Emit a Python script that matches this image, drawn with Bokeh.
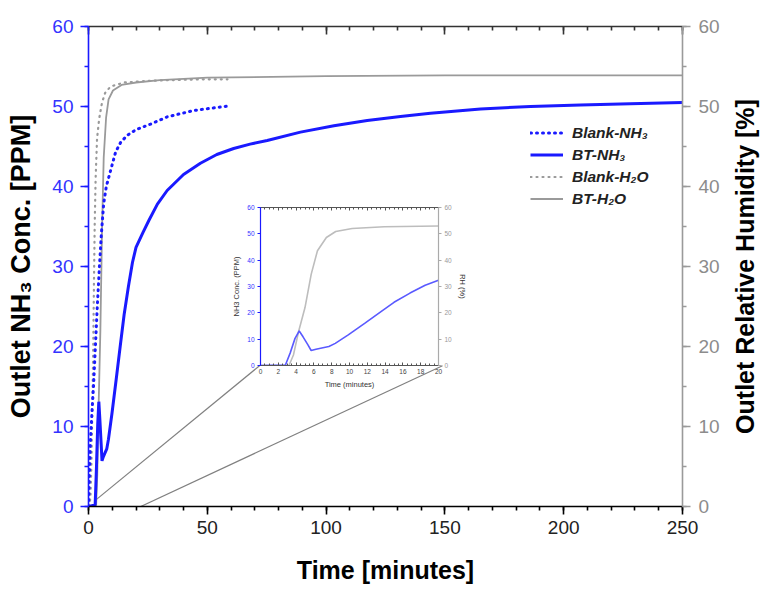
from bokeh.plotting import figure
from bokeh.models import Range1d, LinearAxis, Legend, LegendItem, SingleIntervalTicker, FixedTicker
from bokeh.layouts import column, row
from bokeh.embed import file_html
from bokeh.resources import INLINE

# ---------------- data ----------------
blank_nh3_t = [0, 0.3, 0.8, 1.5, 2.1, 2.9, 3.7, 4.6, 5.4, 6.4, 7.5, 9.3, 11.4, 13.5, 16.3, 20, 26.1, 33.1, 44.3, 52, 59.8]
blank_nh3_y = [0, 3, 8, 12, 15, 20, 25, 30, 34, 37.9, 40, 42, 44.3, 45.5, 46.4, 47.1, 47.8, 48.7, 49.5, 49.8, 50.1]

bt_nh3_t = [0, 2.8, 3.33, 3.88, 4.35, 4.78, 5.33, 5.69, 6.23, 7.68, 8.4, 9.86, 11.7, 13.5, 15.0, 16.8, 18.5, 20,
            23, 25.4, 29, 33.1, 40, 47.1, 54, 61.1, 68, 75.2, 89.2, 103.3, 117.3, 131.3, 143.9, 165, 186, 207, 228, 250]
bt_nh3_y = [0, 0.2, 4.7, 10.3, 13.1, 10.9, 7.8, 5.7, 6.2, 7.2, 8.4, 11.6, 16.0, 20.4, 24.0, 27.5, 30.5, 32.4,
            34.3, 35.75, 37.8, 39.5, 41.5, 42.9, 44.0, 44.75, 45.3, 45.75, 46.8, 47.6, 48.25, 48.75, 49.15, 49.7, 50.0, 50.2, 50.35, 50.5]

blank_h2o_t = [0, 0.8, 1.2, 1.6, 2.0, 2.3, 2.6, 3.0, 3.6, 4.5, 5.7, 7, 9.3, 15, 25, 35, 48, 58.5]
blank_h2o_y = [0, 1, 5, 12, 20, 28, 35, 41, 46, 48.5, 50.5, 51.7, 52.5, 53, 53.2, 53.3, 53.4, 53.4]

bt_h2o_t = [0, 3.2, 3.7, 4.26, 5.0, 5.7, 6.4, 7.4, 8.45, 10.3, 13.9, 20, 30, 50, 100, 150, 250]
bt_h2o_y = [0, 0, 4, 12.6, 22, 34.7, 43.6, 48.6, 50.9, 52, 52.7, 53, 53.3, 53.6, 53.8, 53.9, 53.9]

legend_labels = ["Blank-NH\u2083", "BT-NH\u2083", "Blank-H\u2082O", "BT-H\u2082O"]

# zoom connector lines (main-axis data units)
conn_x0 = [3, 22]
conn_y0 = [0.8, 0]
conn_x1 = [72.0, 149.0]
conn_y1 = [17.6, 17.6]

BLUE = "#1a1aff"
BLUE_TXT = "#3333ff"
GRAY = "#9a9a9a"
GRAY_TXT = "#8c8c8c"
FONT = "Liberation Sans"

# ---------------- main figure ----------------
p = figure(width=722, height=589, x_range=Range1d(0, 250), y_range=Range1d(0, 60),
           output_backend="svg", toolbar_location=None,
           x_axis_location=None, y_axis_location=None,
           min_border_left=88, min_border_right=40, min_border_top=26, min_border_bottom=83)
p.extra_y_ranges = {"rh": Range1d(0, 60)}
p.grid.visible = False
p.outline_line_color = None
p.background_fill_color = "white"
p.border_fill_color = "white"

def style_axis(ax, color, label_color, tick_color):
    ax.axis_line_color = color
    ax.axis_line_width = 1.6
    ax.major_tick_line_color = tick_color
    ax.minor_tick_line_color = tick_color
    ax.major_tick_line_width = 1.6
    ax.minor_tick_line_width = 1.6
    ax.major_label_text_color = label_color
    ax.major_label_text_font = FONT
    ax.major_label_text_font_size = "19px"
    ax.axis_label_text_font = FONT
    ax.axis_label_text_font_style = "bold"
    ax.axis_label_text_font_size = "25px"
    ax.axis_label_text_color = "black"

xb = LinearAxis(ticker=SingleIntervalTicker(interval=50, num_minor_ticks=5), axis_label="Time [minutes]")
style_axis(xb, "black", "#222222", "black")
xb.major_tick_in = 0; xb.major_tick_out = 8; xb.minor_tick_in = 0; xb.minor_tick_out = 4
xb.major_label_standoff = 6
xb.axis_label_standoff = 19
p.add_layout(xb, "below")

xt = LinearAxis(ticker=SingleIntervalTicker(interval=50, num_minor_ticks=5))
style_axis(xt, "#333333", None, "#333333")
xt.major_label_text_font_size = "2px"
xt.major_label_standoff = 0
xt.major_tick_in = 8; xt.major_tick_out = 0; xt.minor_tick_in = 4; xt.minor_tick_out = 0
p.add_layout(xt, "above")

yl = LinearAxis(ticker=SingleIntervalTicker(interval=10, num_minor_ticks=2), axis_label="Outlet NH\u2083 Conc. [PPM]")
style_axis(yl, BLUE, BLUE_TXT, BLUE)
yl.axis_label_text_font_size = "27px"
yl.major_tick_in = 0; yl.major_tick_out = 8; yl.minor_tick_in = 0; yl.minor_tick_out = 4
yl.major_label_standoff = 7
yl.axis_label_standoff = 13
p.add_layout(yl, "left")

yr = LinearAxis(y_range_name="rh", ticker=SingleIntervalTicker(interval=10, num_minor_ticks=2))
style_axis(yr, GRAY, GRAY_TXT, GRAY)
yr.major_tick_in = 0; yr.major_tick_out = 8; yr.minor_tick_in = 0; yr.minor_tick_out = 4
yr.major_label_standoff = 8
p.add_layout(yr, "right")

# connectors
p.segment(x0=conn_x0, y0=conn_y0, x1=conn_x1, y1=conn_y1, line_color="#808080", line_width=1.2)

r_bh = p.line(blank_h2o_t, blank_h2o_y, y_range_name="rh", line_color=GRAY, line_width=2.2,
              line_dash="1 5", line_cap="round")
r_th = p.line(bt_h2o_t, bt_h2o_y, y_range_name="rh", line_color=GRAY, line_width=1.8)
r_bn = p.line(blank_nh3_t, blank_nh3_y, line_color=BLUE, line_width=3.0, line_dash="1 5", line_cap="round")
r_tn = p.line(bt_nh3_t, bt_nh3_y, line_color=BLUE, line_width=3.0)

legend = Legend(items=[LegendItem(label=legend_labels[0], renderers=[r_bn]),
                       LegendItem(label=legend_labels[1], renderers=[r_tn]),
                       LegendItem(label=legend_labels[2], renderers=[r_bh]),
                       LegendItem(label=legend_labels[3], renderers=[r_th])],
                location=(442, 297))
legend.border_line_color = None
legend.background_fill_alpha = 0
legend.label_text_font = FONT
legend.label_text_font_style = "bold italic"
legend.label_text_font_size = "15.5px"
legend.label_text_color = "#222222"
legend.glyph_width = 33
legend.glyph_height = 21
legend.label_height = 21
legend.spacing = 1
legend.label_standoff = 9
legend.padding = 10
p.add_layout(legend)

# ---------------- right-hand title strip (axis title reading bottom-to-top) ----------------
lf = figure(width=44, height=589, x_range=Range1d(0, 1), y_range=Range1d(0, 60),
            output_backend="svg", toolbar_location=None,
            x_axis_location=None, y_axis_location=None,
            min_border_left=36, min_border_right=0, min_border_top=26, min_border_bottom=83)
lf.grid.visible = False
lf.outline_line_color = None
lf.border_fill_color = "white"
lf.background_fill_color = "white"
rt = LinearAxis(ticker=FixedTicker(ticks=[]), axis_label="Outlet Relative Humidity [%]")
rt.axis_line_color = None
rt.major_tick_line_color = None
rt.minor_tick_line_color = None
rt.major_label_text_color = None
rt.major_label_standoff = 0
rt.axis_label_standoff = 0
rt.axis_label_text_font = FONT
rt.axis_label_text_font_style = "bold"
rt.axis_label_text_font_size = "25px"
rt.axis_label_text_color = "black"
lf.add_layout(rt, "left")

# ---------------- inset figure ----------------
q = figure(width=240, height=200, x_range=Range1d(0, 20), y_range=Range1d(0, 60),
           output_backend="svg", toolbar_location=None,
           x_axis_location=None, y_axis_location=None,
           min_border_left=27, min_border_right=28, min_border_top=9, min_border_bottom=33)
q.extra_y_ranges = {"rh": Range1d(0, 60)}
q.grid.visible = False
q.outline_line_color = None
q.background_fill_color = "white"
q.border_fill_alpha = 0

def style_small(ax, color, label_color):
    ax.axis_line_color = color
    ax.axis_line_width = 1.2
    ax.major_tick_line_color = color
    ax.minor_tick_line_color = color
    ax.major_label_text_color = label_color
    ax.major_label_text_font = FONT
    ax.major_label_text_font_size = "6.5px"
    ax.major_label_standoff = 3
    ax.axis_label_text_font = FONT
    ax.axis_label_text_font_style = "normal"
    ax.axis_label_text_font_size = "7.5px"
    ax.axis_label_text_color = "#333333"
    ax.axis_label_standoff = 3

qb = LinearAxis(ticker=SingleIntervalTicker(interval=2, num_minor_ticks=4), axis_label="Time (minutes)")
style_small(qb, "#555555", "#444444")
qb.major_tick_in = 3; qb.major_tick_out = 0; qb.minor_tick_in = 2; qb.minor_tick_out = 0
q.add_layout(qb, "below")

qt = LinearAxis(ticker=SingleIntervalTicker(interval=2, num_minor_ticks=4))
style_small(qt, "#555555", None)
qt.major_label_text_font_size = "1px"
qt.major_label_standoff = 0
qt.major_tick_in = 3; qt.major_tick_out = 0; qt.minor_tick_in = 2; qt.minor_tick_out = 0
q.add_layout(qt, "above")

ql = LinearAxis(ticker=SingleIntervalTicker(interval=10, num_minor_ticks=2), axis_label="NH3 Conc. (PPM)")
style_small(ql, BLUE, BLUE_TXT)
ql.major_tick_in = 0; ql.major_tick_out = 3; ql.minor_tick_in = 0; ql.minor_tick_out = 0
q.add_layout(ql, "left")

qr = LinearAxis(y_range_name="rh", ticker=SingleIntervalTicker(interval=10, num_minor_ticks=2), axis_label="RH (%)")
style_small(qr, "#aaaaaa", "#999999")
qr.major_tick_in = 0; qr.major_tick_out = 3; qr.minor_tick_in = 0; qr.minor_tick_out = 0
q.add_layout(qr, "right")

q.line(bt_h2o_t, bt_h2o_y, y_range_name="rh", line_color="#bdbdbd", line_width=1.6)
q.line(bt_nh3_t, bt_nh3_y, line_color="#5a5aff", line_width=1.6)

# pull the inset up over the main plot (589 - 198 = 391 px), 229 px from the left
q.styles = {"margin-top": "-391px", "margin-left": "229px", "position": "relative", "z-index": "10"}

layout = column(row(p, lf), q)
open("out.html", "w").write(file_html(layout, INLINE))
